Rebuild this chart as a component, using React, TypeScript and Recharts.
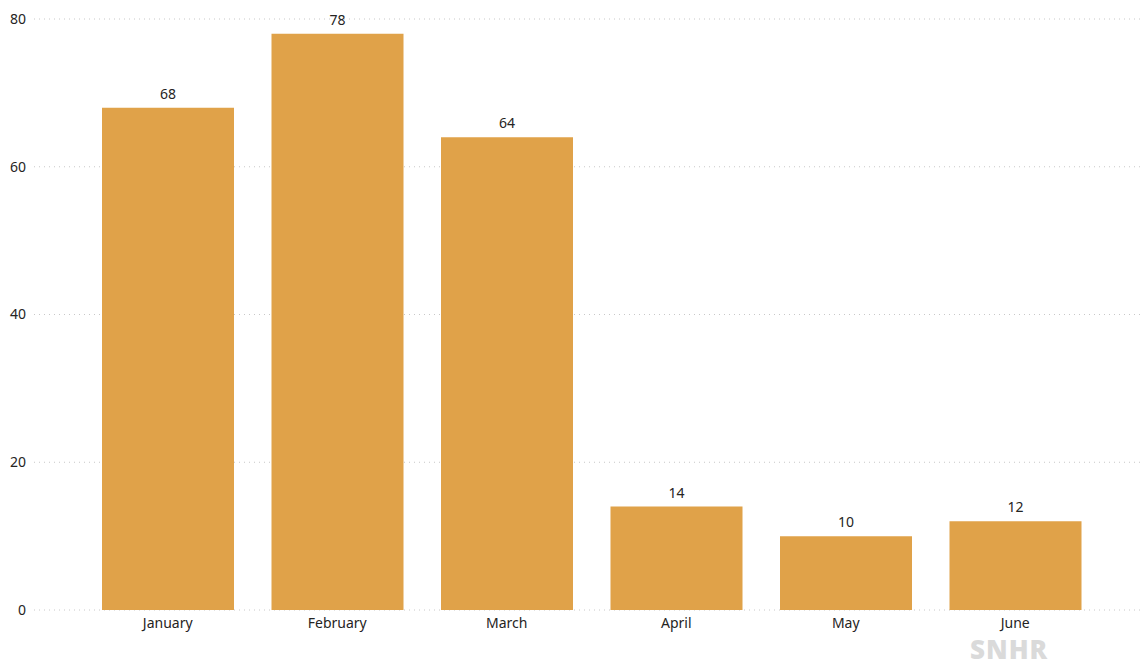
import React from 'react';
import { BarChart, Bar, XAxis, YAxis, CartesianGrid, LabelList } from 'recharts';

const months = ['January', 'February', 'March', 'April', 'May', 'June'];
const counts = [68, 78, 64, 14, 10, 12];
const yTicks = [0, 20, 40, 60, 80];

const data = months.map((m, i) => ({ month: m, count: counts[i] }));

const font = '"Noto Sans", "Open Sans", sans-serif';

export default function App() {
  return (
    <div style={{ position: 'absolute', left: 0, top: 0, width: 1142, height: 667, fontFamily: font }}>
      <BarChart
        width={1142}
        height={667}
        data={data}
        margin={{ top: 19, right: 0, left: 0, bottom: 27 }}
      >
        <CartesianGrid vertical={false} strokeDasharray="1 4" stroke="#c8c8c8" />
        <XAxis
          dataKey="month"
          axisLine={false}
          tickLine={false}
          padding={{ left: 49, right: 42 }}
          tick={{ fill: '#252423', fontSize: 14, fontFamily: font }}
          height={30}
          tickMargin={2}
        />
        <YAxis
          width={34}
          domain={[0, 80]}
          ticks={yTicks}
          axisLine={false}
          tickLine={false}
          tick={{ fill: '#252423', fontSize: 14, fontFamily: font }}
        />
        <Bar dataKey="count" fill="#E0A249" barSize={132} isAnimationActive={false}>
          <LabelList dataKey="count" position="top" offset={9} style={{ fill: '#252423', fontSize: 14, fontFamily: font }} />
        </Bar>
      </BarChart>
      <div
        style={{
          position: 'absolute',
          left: 970,
          top: 636,
          fontSize: 26,
          fontWeight: 900,
          color: '#dadada',
          fontFamily: '"Open Sans", sans-serif',
          letterSpacing: 1,
          lineHeight: '26px',
        }}
      >
        SNHR
      </div>
    </div>
  );
}
